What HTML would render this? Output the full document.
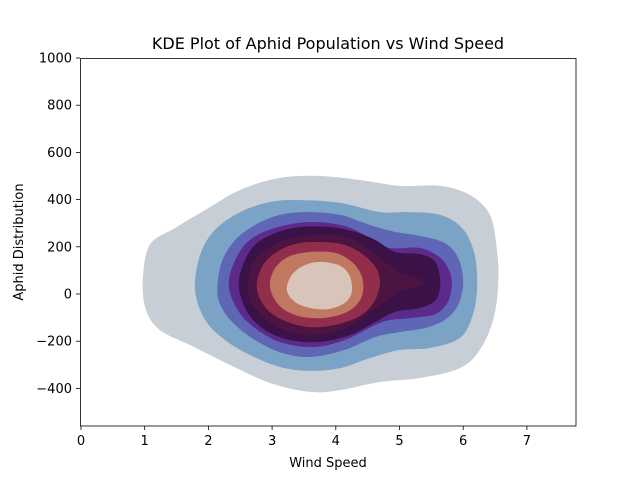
<!DOCTYPE html>
<html><head><meta charset="utf-8"><style>
body{margin:0;background:#fff;}
svg text{font-family:"DejaVu Sans","Liberation Sans",sans-serif;fill:#000;}
</style></head><body>
<svg id="chart" width="640" height="480">
<rect width="640" height="480" fill="#fff"/>
<g id="contours"></g>
<rect x="80.5" y="58.5" width="495.5" height="367.5" fill="none" stroke="#000" stroke-width="0.8"/>
<g id="xticks"></g>
<g id="yticks"></g>
<text x="328" y="49" font-size="16" text-anchor="middle">KDE Plot of Aphid Population vs Wind Speed</text>
<text x="328" y="467" font-size="13" text-anchor="middle">Wind Speed</text>
<text transform="translate(23,242) rotate(-90)" font-size="13" text-anchor="middle">Aphid Distribution</text>
</svg>
<script>
const xTicks=[0,1,2,3,4,5,6,7];
const yTicks=[-400,-200,0,200,400,600,800,1000];
const levelColors=["#c8ced5","#7aa3c5","#5e66b5","#5b2a8a","#3b1248","#4c1440","#922e4c","#c07860","#d8c4b8"];
const L1x=[0.97,1.08,1.48,1.95,2.50,3.12,3.75,4.38,5.01,5.64,6.11,6.42,6.53,6.55,6.47,6.26,5.95,5.32,4.69,4.07,3.59,2.97,2.34,1.71,1.24,1.02];
const L1y=[59,208,280,356,441,492,500,483,458,458,419,335,186,38,-110,-237,-314,-356,-373,-407,-415,-377,-301,-216,-153,-68];
const L2x=[1.79,1.87,2.10,2.50,2.97,3.44,4.07,4.69,5.16,5.64,5.98,6.17,6.22,6.15,5.95,5.48,5.01,4.54,4.07,3.59,3.12,2.65,2.26,1.95];
const L2y=[17,165,271,347,390,398,386,347,347,335,280,178,38,-89,-186,-229,-237,-271,-314,-326,-309,-258,-195,-110];
const L3x=[2.14,2.21,2.42,2.73,3.12,3.55,4.07,4.54,4.93,5.32,5.71,5.92,6.00,5.92,5.71,5.40,5.01,4.62,4.14,3.59,3.12,2.73,2.42,2.21];
const L3y=[17,136,229,292,335,347,335,292,263,246,216,153,51,-47,-110,-144,-161,-182,-237,-267,-246,-195,-131,-59];
const L4x=[2.32,2.42,2.65,3.05,3.59,4.14,4.54,4.85,5.32,5.64,5.79,5.82,5.76,5.56,5.16,4.85,4.62,4.14,3.64,3.12,2.73,2.46];
const L4y=[38,144,229,280,305,288,237,195,195,153,93,38,-34,-85,-102,-110,-131,-195,-225,-203,-144,-68];
const L5x=[2.48,2.54,2.73,3.05,3.44,3.91,4.30,4.62,4.93,5.32,5.56,5.64,5.57,5.32,4.93,4.62,4.22,3.75,3.28,2.89,2.62];
const L5y=[25,123,208,258,284,284,263,229,178,169,136,51,-25,-59,-76,-119,-174,-203,-195,-153,-81];
const L6x=[2.62,2.68,2.89,3.20,3.59,4.07,4.41,4.69,5.01,5.40,5.01,4.69,4.38,3.99,3.52,3.12,2.84,2.68];
const L6y=[25,119,186,229,250,246,212,153,93,51,8,-47,-110,-161,-174,-144,-93,-38];
const L7x=[2.76,2.84,3.05,3.36,3.75,4.14,4.46,4.65,4.69,4.60,4.38,3.99,3.56,3.17,2.90];
const L7y=[25,114,174,212,220,208,161,102,38,-34,-93,-131,-140,-110,-59];
const L8x=[2.97,3.03,3.25,3.59,3.99,4.25,4.40,4.43,4.35,4.14,3.78,3.41,3.12];
const L8y=[25,102,157,178,174,136,81,17,-38,-81,-102,-93,-51];
const L9x=[3.23,3.31,3.52,3.78,4.07,4.22,4.25,4.14,3.88,3.59,3.36];
const L9y=[17,81,123,136,119,76,8,-38,-64,-59,-34];
const levelsX=[L1x,L2x,L3x,L4x,L5x,L6x,L7x,L8x,L9x];
const levelsY=[L1y,L2y,L3y,L4y,L5y,L6y,L7y,L8y,L9y];

const NS="http://www.w3.org/2000/svg";
function sx(v){return 81+63.7*v;}
function sy(v){return 294-0.236*v;}
function closedPath(px,py){
  const n=px.length;let d="M"+px[0].toFixed(1)+","+py[0].toFixed(1);
  for(let i=0;i<n;i++){
    const i0=(i-1+n)%n,i2=(i+1)%n,i3=(i+2)%n;
    const c1x=px[i]+(px[i2]-px[i0])/6,c1y=py[i]+(py[i2]-py[i0])/6;
    const c2x=px[i2]-(px[i3]-px[i])/6,c2y=py[i2]-(py[i3]-py[i])/6;
    d+="C"+c1x.toFixed(1)+","+c1y.toFixed(1)+" "+c2x.toFixed(1)+","+c2y.toFixed(1)+" "+px[i2].toFixed(1)+","+py[i2].toFixed(1);
  }
  return d+"Z";
}
const cg=document.getElementById("contours");
levelsX.forEach((xs,k)=>{
  const p=document.createElementNS(NS,"path");
  p.setAttribute("d",closedPath(xs.map(sx),levelsY[k].map(sy)));
  p.setAttribute("fill",levelColors[k]);
  
  
  cg.appendChild(p);
});
const xg=document.getElementById("xticks");
xTicks.forEach(t=>{
  const x=sx(t);
  const l=document.createElementNS(NS,"line");
  l.setAttribute("x1",x);l.setAttribute("x2",x);l.setAttribute("y1",426);l.setAttribute("y2",430);l.setAttribute("stroke","#000");l.setAttribute("stroke-width","0.8");
  
  
  xg.appendChild(l);
  const tx=document.createElementNS(NS,"text");
  tx.setAttribute("x",x);tx.setAttribute("y",445);tx.setAttribute("font-size","13");tx.setAttribute("text-anchor","middle");
  tx.textContent=t;
  
  
  xg.appendChild(tx);
});
const yg=document.getElementById("yticks");
yTicks.forEach(t=>{
  const y=sy(t);
  const l=document.createElementNS(NS,"line");
  l.setAttribute("x1",76);l.setAttribute("x2",80);l.setAttribute("y1",y);l.setAttribute("y2",y);l.setAttribute("stroke","#000");l.setAttribute("stroke-width","0.8");
  
  
  yg.appendChild(l);
  const tx=document.createElementNS(NS,"text");
  tx.setAttribute("x",72);tx.setAttribute("y",y+4.5);tx.setAttribute("font-size","13");tx.setAttribute("text-anchor","end");
  tx.textContent=t<0?"\u2212"+(-t):t;
  
  
  yg.appendChild(tx);
});
</script>
</body></html>
